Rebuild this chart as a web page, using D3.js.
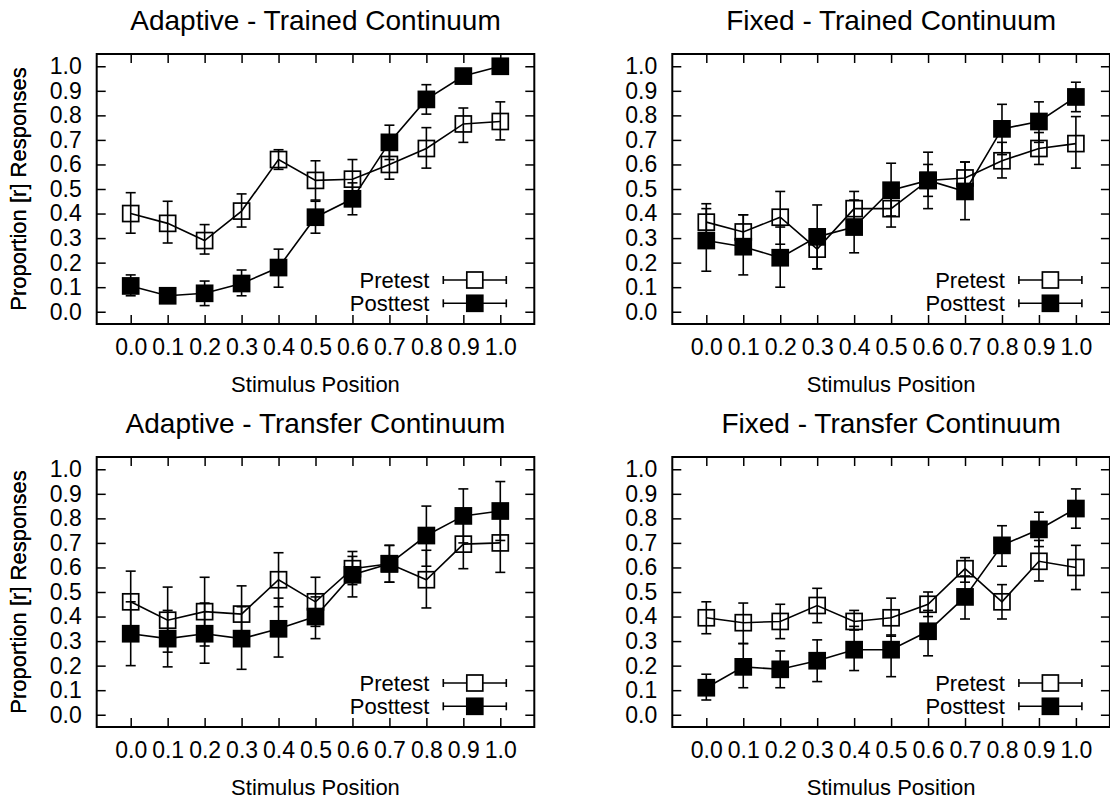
<!DOCTYPE html>
<html>
<head>
<meta charset="utf-8">
<script src="https://cdn.jsdelivr.net/npm/d3@7"></script>
<style>
  body { margin: 0; background: #fff; }
  text { font-family: "Liberation Sans", Arial, sans-serif; fill: #000; }
</style>
</head>
<body>
<script>
// stimulus positions shared by all panels
var positions = [0.0, 0.1, 0.2, 0.3, 0.4, 0.5, 0.6, 0.7, 0.8, 0.9, 1.0];
var yTicks = [0.0, 0.1, 0.2, 0.3, 0.4, 0.5, 0.6, 0.7, 0.8, 0.9, 1.0];
var seriesNames = ["Pretest", "Posttest"];

// Adaptive - Trained Continuum
var atPre    = [0.40, 0.36, 0.29, 0.41, 0.62, 0.535, 0.54, 0.60, 0.665, 0.765, 0.775];
var atPreLo  = [0.32, 0.28, 0.235, 0.345, 0.58, 0.455, 0.46, 0.54, 0.585, 0.69, 0.70];
var atPreHi  = [0.485, 0.45, 0.355, 0.48, 0.66, 0.615, 0.62, 0.66, 0.75, 0.83, 0.855];
var atPost   = [0.105, 0.065, 0.075, 0.115, 0.18, 0.385, 0.46, 0.69, 0.865, 0.96, 1.0];
var atPostLo = [0.065, 0.05, 0.025, 0.065, 0.10, 0.32, 0.395, 0.62, 0.805, 0.945, 0.99];
var atPostHi = [0.15, 0.08, 0.125, 0.17, 0.255, 0.45, 0.525, 0.76, 0.925, 0.975, 1.01];

// Fixed - Trained Continuum
var ftPre    = [0.365, 0.325, 0.385, 0.255, 0.42, 0.42, 0.535, 0.545, 0.615, 0.665, 0.685];
var ftPreLo  = [0.29, 0.255, 0.275, 0.175, 0.35, 0.345, 0.47, 0.49, 0.545, 0.60, 0.585];
var ftPreHi  = [0.44, 0.395, 0.49, 0.33, 0.49, 0.47, 0.60, 0.61, 0.69, 0.73, 0.795];
var ftPost   = [0.29, 0.265, 0.22, 0.305, 0.345, 0.495, 0.535, 0.49, 0.745, 0.775, 0.875];
var ftPostLo = [0.165, 0.15, 0.10, 0.175, 0.24, 0.39, 0.42, 0.375, 0.64, 0.69, 0.815];
var ftPostHi = [0.42, 0.395, 0.345, 0.435, 0.455, 0.605, 0.65, 0.61, 0.845, 0.855, 0.935];

// Adaptive - Transfer Continuum
var axPre    = [0.46, 0.385, 0.42, 0.41, 0.55, 0.46, 0.595, 0.615, 0.55, 0.695, 0.70];
var axPreLo  = [0.335, 0.255, 0.28, 0.29, 0.44, 0.36, 0.53, 0.54, 0.435, 0.595, 0.58];
var axPreHi  = [0.585, 0.52, 0.56, 0.525, 0.66, 0.56, 0.665, 0.69, 0.67, 0.795, 0.81];
var axPost   = [0.33, 0.31, 0.33, 0.31, 0.35, 0.40, 0.57, 0.615, 0.73, 0.81, 0.83];
var axPostLo = [0.20, 0.195, 0.21, 0.185, 0.235, 0.31, 0.48, 0.54, 0.605, 0.70, 0.71];
var axPostHi = [0.46, 0.425, 0.455, 0.44, 0.475, 0.48, 0.645, 0.69, 0.85, 0.92, 0.95];

// Fixed - Transfer Continuum
var fxPre    = [0.395, 0.375, 0.38, 0.445, 0.38, 0.395, 0.45, 0.595, 0.46, 0.625, 0.60];
var fxPreLo  = [0.33, 0.29, 0.31, 0.375, 0.345, 0.32, 0.40, 0.54, 0.39, 0.545, 0.51];
var fxPreHi  = [0.46, 0.455, 0.45, 0.515, 0.425, 0.475, 0.50, 0.64, 0.53, 0.71, 0.69];
var fxPost   = [0.11, 0.195, 0.185, 0.22, 0.265, 0.265, 0.34, 0.48, 0.69, 0.755, 0.84];
var fxPostLo = [0.06, 0.11, 0.11, 0.135, 0.18, 0.155, 0.24, 0.39, 0.605, 0.685, 0.76];
var fxPostHi = [0.165, 0.29, 0.26, 0.305, 0.36, 0.325, 0.425, 0.565, 0.77, 0.825, 0.92];

var panels = [
  {title: "Adaptive - Trained Continuum", left: 96.7, top: 54,
   pre: [atPre, atPreLo, atPreHi], post: [atPost, atPostLo, atPostHi]},
  {title: "Fixed - Trained Continuum", left: 672.3, top: 54,
   pre: [ftPre, ftPreLo, ftPreHi], post: [ftPost, ftPostLo, ftPostHi]},
  {title: "Adaptive - Transfer Continuum", left: 96.7, top: 457,
   pre: [axPre, axPreLo, axPreHi], post: [axPost, axPostLo, axPostHi]},
  {title: "Fixed - Transfer Continuum", left: 672.3, top: 457,
   pre: [fxPre, fxPreLo, fxPreHi], post: [fxPost, fxPostLo, fxPostHi]}
];

var width = 1110, height = 798;
var boxW = 437.6, boxH = 270;
var tick = 9, cap = 5, mark = 16;
var fontSize = 22, tickFont = 23;

var svg = d3.select("body").append("svg")
    .attr("width", width)
    .attr("height", height);

var x = d3.scaleLinear().domain([-0.092, 1.092]).range([0, boxW]);
var y = d3.scaleLinear().domain([-0.05, 1.05]).range([boxH, 0]);
var fmt = d3.format(".1f");

function drawSeries(g, vals, filled) {
  var pts = positions.map(function (p, i) {
    return {x: p, v: vals[0][i], lo: vals[1][i], hi: vals[2][i]};
  });

  var line = d3.line().x(function (d) { return x(d.x); }).y(function (d) { return y(d.v); });
  g.append("path")
    .datum(pts)
    .attr("d", line)
    .attr("fill", "none")
    .attr("stroke", "#000")
    .attr("stroke-width", 1.6);

  var eb = g.append("g").selectAll("g").data(pts).enter().append("g");
  eb.append("line")
    .attr("x1", function (d) { return x(d.x); })
    .attr("x2", function (d) { return x(d.x); })
    .attr("y1", function (d) { return y(d.lo); })
    .attr("y2", function (d) { return y(d.hi); });
  eb.append("line")
    .attr("x1", function (d) { return x(d.x) - cap; })
    .attr("x2", function (d) { return x(d.x) + cap; })
    .attr("y1", function (d) { return y(d.lo); })
    .attr("y2", function (d) { return y(d.lo); });
  eb.append("line")
    .attr("x1", function (d) { return x(d.x) - cap; })
    .attr("x2", function (d) { return x(d.x) + cap; })
    .attr("y1", function (d) { return y(d.hi); })
    .attr("y2", function (d) { return y(d.hi); });
  eb.selectAll("line").attr("stroke", "#000").attr("stroke-width", 1.6);

  g.append("g").selectAll("rect").data(pts).enter().append("rect")
    .attr("x", function (d) { return x(d.x) - mark / 2; })
    .attr("y", function (d) { return y(d.v) - mark / 2; })
    .attr("width", mark)
    .attr("height", mark)
    .attr("fill", filled ? "#000" : "none")
    .attr("stroke", "#000")
    .attr("stroke-width", 1.7);
}

panels.forEach(function (p) {
  var g = svg.append("g").attr("transform", "translate(" + p.left + "," + p.top + ")");

  // axes with inward ticks on all four sides
  var bottom = g.append("g").attr("transform", "translate(0," + boxH + ")")
    .call(d3.axisBottom(x).tickValues(positions).tickFormat(fmt).tickSizeInner(-tick).tickSizeOuter(0).tickPadding(15));
  var topAx = g.append("g")
    .call(d3.axisTop(x).tickValues(positions).tickFormat("").tickSizeInner(-tick).tickSizeOuter(0));
  var leftAx = g.append("g")
    .call(d3.axisLeft(y).tickValues(yTicks).tickFormat(fmt).tickSizeInner(-tick).tickSizeOuter(0).tickPadding(15));
  var rightAx = g.append("g").attr("transform", "translate(" + boxW + ",0)")
    .call(d3.axisRight(y).tickValues(yTicks).tickFormat("").tickSizeInner(-tick).tickSizeOuter(0));

  [bottom, topAx, leftAx, rightAx].forEach(function (a) {
    a.select(".domain").remove();
    a.selectAll(".tick line").attr("stroke", "#000").attr("stroke-width", 1.5);
    a.selectAll("text").attr("font-size", tickFont).attr("font-family", null);
  });

  g.append("rect")
    .attr("width", boxW)
    .attr("height", boxH)
    .attr("fill", "none")
    .attr("stroke", "#000")
    .attr("stroke-width", 2);

  // titles and axis labels
  g.append("text")
    .attr("x", boxW / 2)
    .attr("y", -24)
    .attr("text-anchor", "middle")
    .attr("font-size", 28)
    .text(p.title);

  g.append("text")
    .attr("x", boxW / 2)
    .attr("y", boxH + 67.5)
    .attr("text-anchor", "middle")
    .attr("font-size", fontSize)
    .text("Stimulus Position");

  g.append("text")
    .attr("transform", "translate(" + (26 - p.left) + "," + (boxH / 2) + ") rotate(-90)")
    .attr("text-anchor", "middle")
    .attr("font-size", fontSize)
    .text("Proportion [r] Responses");

  drawSeries(g, p.pre, false);
  drawSeries(g, p.post, true);

  // legend
  var legend = g.append("g").selectAll("g").data(seriesNames).enter().append("g")
    .attr("transform", function (d, i) { return "translate(0," + (boxH - 44 + i * 23.3) + ")"; });
  var lx0 = x(1.0) - 57, lx1 = x(1.0) + 6, lxm = (lx0 + lx1) / 2;
  legend.append("text")
    .attr("x", lx0 - 14)
    .attr("dy", "0.35em")
    .attr("text-anchor", "end")
    .attr("font-size", fontSize)
    .text(function (d) { return d; });
  legend.append("line").attr("x1", lx0).attr("x2", lx1);
  legend.append("line").attr("x1", lx0).attr("x2", lx0).attr("y1", -4).attr("y2", 4);
  legend.append("line").attr("x1", lx1).attr("x2", lx1).attr("y1", -4).attr("y2", 4);
  legend.selectAll("line").attr("stroke", "#000").attr("stroke-width", 1.6);
  legend.append("rect")
    .attr("x", lxm - mark / 2)
    .attr("y", -mark / 2)
    .attr("width", mark)
    .attr("height", mark)
    .attr("fill", function (d, i) { return i ? "#000" : "#fff"; })
    .attr("stroke", "#000")
    .attr("stroke-width", 1.7);
});
</script>
</body>
</html>
